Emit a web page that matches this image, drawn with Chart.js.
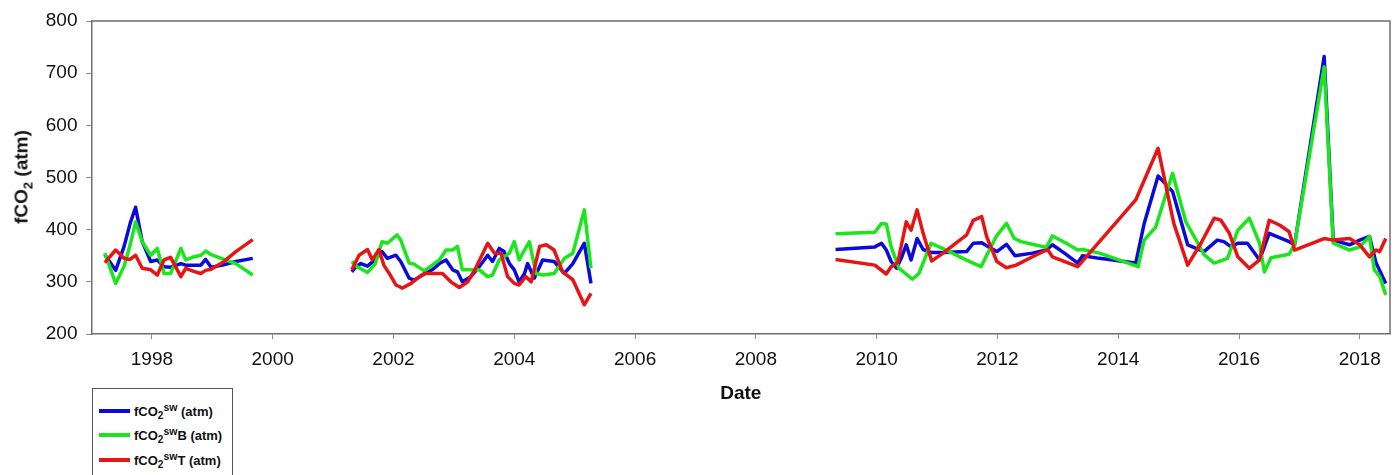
<!DOCTYPE html>
<html>
<head>
<meta charset="utf-8">
<script src="https://cdn.jsdelivr.net/npm/chart.js@4.4.1/dist/chart.umd.min.js"></script>
<style>
  html, body { margin: 0; padding: 0; background: #fff; }
  #wrap { position: relative; width: 1396px; height: 475px; overflow: hidden; font-family: "Liberation Sans", Arial, sans-serif; }
  #c { position: absolute; left: 0; top: 0; }
  #ytitle { position: absolute; left: 23px; top: 177px; transform: translate(-50%, -50%) rotate(-90deg); white-space: nowrap;
            font-weight: bold; font-size: 19px; color: #111; }
  #ytitle sub { font-size: 13px; vertical-align: -5px; }
  #legend { position: absolute; left: 92px; top: 388px; width: 139px; height: 110px; border: 1px solid #555; background: #fff; }
  .row { position: absolute; left: 6px; height: 20px; display: flex; align-items: center; }
  .sw { width: 31px; height: 4px; margin-right: 4px; }
  .lab { font-weight: bold; font-size: 13px; color: #111; white-space: nowrap; }
  .lab sub { font-size: 10px; vertical-align: -3px; }
  .lab sup { font-size: 10.5px; vertical-align: 5px; }
</style>
</head>
<body>
<div id="wrap">
  <canvas id="c" width="1396" height="475"></canvas>
  <div id="ytitle">fCO<sub>2</sub> (atm)</div>
  <div id="legend">
    <div class="row" style="top:12px"><div class="sw" style="background:#0a0adc"></div><span class="lab">fCO<sub>2</sub><sup>sw</sup> (atm)</span></div>
    <div class="row" style="top:36px"><div class="sw" style="background:#1be61b"></div><span class="lab">fCO<sub>2</sub><sup>sw</sup>B (atm)</span></div>
    <div class="row" style="top:61px"><div class="sw" style="background:#e61414"></div><span class="lab">fCO<sub>2</sub><sup>sw</sup>T (atm)</span></div>
  </div>
</div>
<script>
// ---- data (decimal years, fCO2 values) ----
const xTickYears = [1998, 2000, 2002, 2004, 2006, 2008, 2010, 2012, 2014, 2016, 2018];
const yTickValues = [200, 300, 400, 500, 600, 700, 800];

// segment 1 (1997-1999), shared dates
const seg1Dates = [1997.22, 1997.40, 1997.54, 1997.64, 1997.73, 1997.84, 1997.98, 1998.09, 1998.20, 1998.31, 1998.48, 1998.56, 1998.67, 1998.81, 1998.89, 1998.98, 1999.17, 1999.39, 1999.67];
const blueSeg1  = [352, 322, 368, 412, 443, 377, 339, 342, 329, 328, 335, 332, 332, 332, 343, 328, 332, 339, 345];
const greenSeg1 = [355, 297, 330, 371, 415, 377, 351, 364, 316, 316, 364, 342, 347, 351, 359, 352, 344, 335, 313];
const redSeg1   = [337, 361, 345, 343, 351, 326, 323, 313, 342, 347, 310, 326, 321, 316, 322, 324, 337, 358, 381];

// segment 2 (2001-2005)
const blueSeg2Dates = [2001.31, 2001.37, 2001.46, 2001.57, 2001.70, 2001.81, 2001.90, 2002.04, 2002.12, 2002.26, 2002.34, 2002.48, 2002.64, 2002.76, 2002.87, 2002.98, 2003.06, 2003.14, 2003.28, 2003.42, 2003.56, 2003.64, 2003.75, 2003.83, 2003.92, 2004.00, 2004.08, 2004.17, 2004.22, 2004.33, 2004.47, 2004.66, 2004.83, 2004.97, 2005.16, 2005.27];
const blueSeg2      = [319, 328, 335, 330, 343, 358, 345, 351, 339, 307, 303, 313, 323, 335, 342, 323, 319, 300, 310, 329, 351, 339, 364, 358, 335, 323, 300, 316, 335, 307, 342, 339, 316, 335, 374, 297];
const greenSeg2Dates = [2001.31, 2001.40, 2001.57, 2001.70, 2001.81, 2001.90, 2002.06, 2002.12, 2002.26, 2002.34, 2002.51, 2002.76, 2002.87, 2002.98, 2003.06, 2003.14, 2003.28, 2003.42, 2003.56, 2003.64, 2003.75, 2003.92, 2004.00, 2004.08, 2004.17, 2004.25, 2004.36, 2004.47, 2004.66, 2004.83, 2004.97, 2005.16, 2005.27];
const greenSeg2      = [339, 329, 318, 335, 377, 374, 390, 380, 336, 334, 321, 342, 361, 361, 368, 323, 323, 323, 310, 313, 342, 355, 377, 342, 361, 377, 316, 313, 316, 345, 355, 438, 326];
const redSeg2Dates = [2001.31, 2001.43, 2001.57, 2001.65, 2001.76, 2001.84, 2001.93, 2002.04, 2002.15, 2002.29, 2002.40, 2002.51, 2002.64, 2002.81, 2002.95, 2003.09, 2003.23, 2003.36, 2003.56, 2003.67, 2003.78, 2003.89, 2004.00, 2004.08, 2004.19, 2004.28, 2004.42, 2004.53, 2004.66, 2004.80, 2004.97, 2005.16, 2005.27];
const redSeg2      = [323, 351, 362, 342, 362, 332, 316, 294, 288, 297, 307, 316, 316, 316, 300, 289, 300, 326, 374, 355, 355, 310, 297, 294, 310, 300, 368, 371, 361, 319, 304, 256, 278];

// segment 3 (2009-2018)
const blueSeg3Dates = [2009.32, 2009.97, 2010.08, 2010.16, 2010.24, 2010.33, 2010.41, 2010.49, 2010.57, 2010.67, 2010.77, 2010.91, 2011.10, 2011.49, 2011.60, 2011.74, 2011.85, 2011.99, 2012.15, 2012.29, 2012.58, 2012.81, 2012.91, 2013.11, 2013.33, 2013.41, 2013.69, 2014.29, 2014.43, 2014.66, 2014.90, 2015.15, 2015.42, 2015.64, 2015.75, 2015.87, 2015.98, 2016.14, 2016.34, 2016.50, 2016.83, 2016.92, 2017.41, 2017.56, 2017.83, 2018.00, 2018.16, 2018.27, 2018.43];
const blueSeg3      = [362, 367, 374, 361, 339, 326, 346, 371, 342, 383, 362, 356, 356, 358, 374, 375, 367, 358, 372, 350, 355, 361, 371, 355, 336, 350, 345, 336, 412, 503, 473, 371, 358, 380, 377, 367, 374, 374, 342, 393, 377, 371, 732, 380, 371, 380, 387, 336, 297];
const greenSeg3Dates = [2009.32, 2009.97, 2010.08, 2010.16, 2010.24, 2010.37, 2010.59, 2010.70, 2010.90, 2011.09, 2011.48, 2011.73, 2011.81, 2011.98, 2012.15, 2012.28, 2012.39, 2012.58, 2012.81, 2012.91, 2013.14, 2013.33, 2013.41, 2013.69, 2014.33, 2014.43, 2014.62, 2014.90, 2015.12, 2015.34, 2015.42, 2015.59, 2015.81, 2015.98, 2016.17, 2016.34, 2016.42, 2016.53, 2016.83, 2016.92, 2017.41, 2017.56, 2017.83, 2018.00, 2018.16, 2018.24, 2018.33, 2018.43];
const greenSeg3      = [392, 395, 412, 411, 367, 326, 305, 316, 374, 364, 342, 329, 348, 387, 412, 383, 377, 372, 366, 388, 374, 361, 362, 355, 329, 380, 405, 508, 415, 370, 352, 336, 345, 399, 422, 374, 319, 346, 353, 371, 712, 374, 361, 367, 387, 323, 310, 275];
const redSeg3Dates = [2009.32, 2009.97, 2010.16, 2010.24, 2010.35, 2010.49, 2010.57, 2010.67, 2010.77, 2010.91, 2011.10, 2011.49, 2011.60, 2011.74, 2011.82, 2011.99, 2012.15, 2012.31, 2012.58, 2012.83, 2012.91, 2013.33, 2014.29, 2014.66, 2014.92, 2015.15, 2015.37, 2015.59, 2015.70, 2015.84, 2015.98, 2016.17, 2016.34, 2016.50, 2016.67, 2016.83, 2016.92, 2017.41, 2017.56, 2017.83, 2018.00, 2018.16, 2018.27, 2018.33, 2018.43];
const redSeg3      = [343, 332, 315, 329, 337, 415, 399, 438, 393, 340, 355, 390, 418, 425, 387, 339, 327, 332, 348, 362, 348, 329, 457, 556, 412, 332, 374, 422, 418, 393, 348, 326, 342, 418, 409, 396, 361, 383, 380, 383, 371, 348, 361, 358, 383];

const gapDates = [2000.5, 2007.3];

function buildPoints(segs) {
  const pts = [];
  segs.forEach((s, i) => {
    s[0].forEach((d, j) => pts.push({ x: d, y: s[1][j] }));
    if (i < segs.length - 1) pts.push({ x: gapDates[i], y: null });
  });
  return pts;
}

const bluePts  = buildPoints([[seg1Dates, blueSeg1],  [blueSeg2Dates, blueSeg2],  [blueSeg3Dates, blueSeg3]]);
const greenPts = buildPoints([[seg1Dates, greenSeg1], [greenSeg2Dates, greenSeg2], [greenSeg3Dates, greenSeg3]]);
const redPts   = buildPoints([[seg1Dates, redSeg1],   [redSeg2Dates, redSeg2],   [redSeg3Dates, redSeg3]]);

const FONT = '"Liberation Sans", Arial, sans-serif';

const frame = {
  id: 'frame',
  afterDatasetsDraw(chart) {
    const { ctx, chartArea: a } = chart;
    ctx.save();
    ctx.strokeStyle = '#6e6e6e';
    ctx.lineWidth = 1.5;
    ctx.beginPath();
    ctx.moveTo(a.left, a.top);
    ctx.lineTo(a.right, a.top);
    ctx.lineTo(a.right, a.bottom);
    ctx.stroke();
    ctx.restore();
  }
};

const ds = (label, pts, color, order) => ({
  label, data: pts, borderColor: color, backgroundColor: color,
  borderWidth: 3.5, borderJoinStyle: 'round', borderCapStyle: 'butt',
  pointRadius: 0, tension: 0, spanGaps: false, order, fill: false
});

new Chart(document.getElementById('c'), {
  type: 'line',
  data: {
    datasets: [
      ds('fCO2sw (atm)', bluePts, '#0a0adc', 3),
      ds('fCO2swB (atm)', greenPts, '#1be61b', 2),
      ds('fCO2swT (atm)', redPts, '#e61414', 1)
    ]
  },
  options: {
    responsive: false,
    animation: false,
    events: [],
    layout: { padding: { left: 0, top: 21, right: 6, bottom: 70 } },
    plugins: { legend: { display: false }, tooltip: { enabled: false } },
    scales: {
      x: {
        type: 'linear', min: 1997, max: 2018.5,
        afterBuildTicks: (s) => { s.ticks = xTickYears.map(v => ({ value: v })); },
        afterFit: (s) => { s.height = 71; },
        ticks: { font: { family: FONT, size: 19 }, color: '#111', padding: 9, maxRotation: 0, autoSkip: false,
                 callback: (v) => String(v) },
        grid: { drawOnChartArea: false, drawTicks: true, tickLength: 5, color: '#888', lineWidth: 1 },
        border: { display: true, color: '#6e6e6e', width: 1.5 },
        title: { display: true, text: 'Date', font: { family: FONT, size: 19, weight: 'bold' }, color: '#111', padding: 0 }
      },
      y: {
        min: 200, max: 800,
        afterBuildTicks: (s) => { s.ticks = yTickValues.map(v => ({ value: v })); },
        afterFit: (s) => { s.width = 91.5; },
        ticks: { font: { family: FONT, size: 19 }, color: '#111', padding: 9, callback: (v) => String(v) },
        grid: { drawOnChartArea: false, drawTicks: true, tickLength: 5, color: '#888', lineWidth: 1 },
        border: { display: true, color: '#6e6e6e', width: 1.5 }
      }
    }
  },
  plugins: [frame]
});
</script>
</body>
</html>
